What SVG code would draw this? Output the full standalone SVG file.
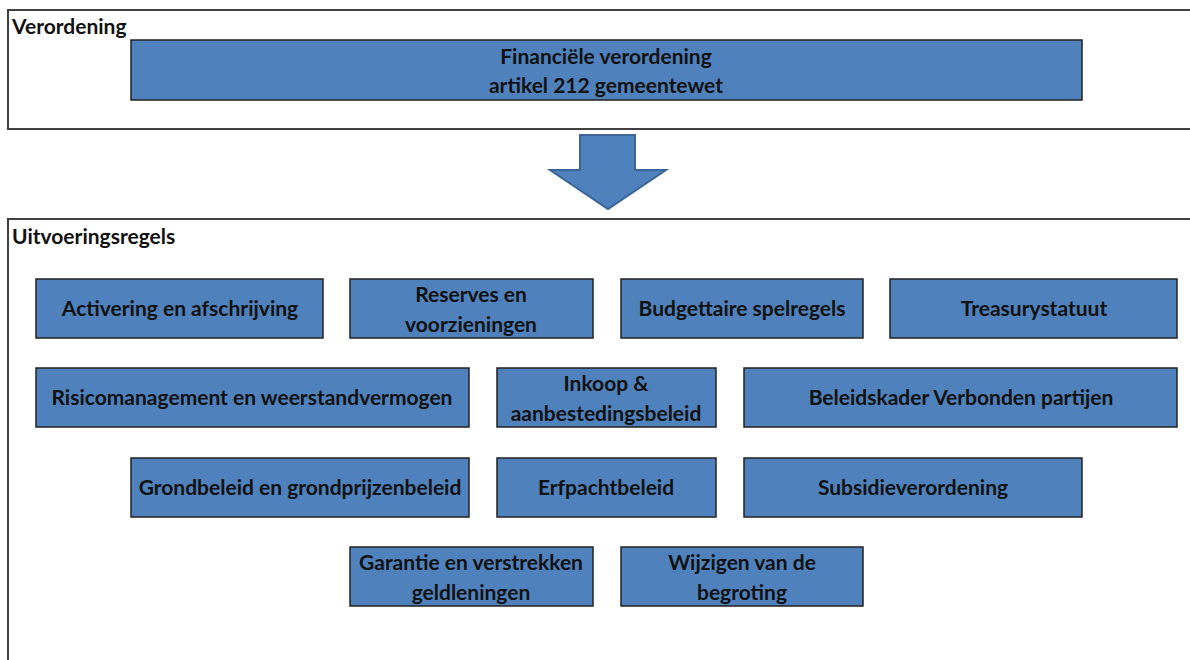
<svg xmlns="http://www.w3.org/2000/svg" width="1190" height="660" viewBox="0 0 1190 660">
<style>
.frame{fill:#fff;stroke:#404040;stroke-width:2}
.box{fill:#4f81bd;stroke:#222;stroke-width:1.5}
.t{font-family:Lato,"Liberation Sans",sans-serif;font-weight:bold;font-size:21px;fill:#111;text-anchor:middle}
.h{font-family:Lato,"Liberation Sans",sans-serif;font-weight:bold;font-size:21px;fill:#111}
</style>
<rect width="1190" height="660" fill="#fff"/>
<g id="frame-verordening">
<rect class="frame" x="8" y="10" width="1200" height="119"/>
<text class="h" x="12" y="34">Verordening</text>
</g>
<g id="frame-uitvoeringsregels">
<rect class="frame" x="8" y="219" width="1200" height="460"/>
<text class="h" x="12" y="244">Uitvoeringsregels</text>
</g>
<g id="connectors">
<polygon points="580,135 635,135 635,170 666,170 608,209 550,170 580,170" fill="#4f81bd" stroke="#3a6596" stroke-width="2" stroke-linejoin="miter"/>
</g>
<g id="n-fin"><rect class="box" x="131" y="40" width="951" height="60"/><text class="t" x="606" y="64">Financiële verordening</text><text class="t" x="606" y="93">artikel 212 gemeentewet</text></g>
<g id="n-act"><rect class="box" x="36" y="279" width="287" height="59"/><text class="t" x="180" y="316">Activering en afschrijving</text></g>
<g id="n-res"><rect class="box" x="350" y="279" width="243" height="59"/><text class="t" x="471" y="302">Reserves en</text><text class="t" x="471" y="332">voorzieningen</text></g>
<g id="n-bud"><rect class="box" x="621" y="279" width="242" height="59"/><text class="t" x="742" y="316">Budgettaire spelregels</text></g>
<g id="n-tre"><rect class="box" x="890" y="279" width="287" height="59"/><text class="t" x="1034" y="316">Treasurystatuut</text></g>
<g id="n-ris"><rect class="box" x="36" y="368" width="433" height="59"/><text class="t" x="252" y="405">Risicomanagement en weerstandvermogen</text></g>
<g id="n-ink"><rect class="box" x="497" y="368" width="219" height="59"/><text class="t" x="606" y="391">Inkoop &amp;</text><text class="t" x="606" y="421">aanbestedingsbeleid</text></g>
<g id="n-bel"><rect class="box" x="744" y="368" width="433" height="59"/><text class="t" x="961" y="405">Beleidskader Verbonden partijen</text></g>
<g id="n-gro"><rect class="box" x="131" y="458" width="338" height="59"/><text class="t" x="300" y="495">Grondbeleid en grondprijzenbeleid</text></g>
<g id="n-erf"><rect class="box" x="497" y="458" width="219" height="59"/><text class="t" x="606" y="495">Erfpachtbeleid</text></g>
<g id="n-sub"><rect class="box" x="744" y="458" width="338" height="59"/><text class="t" x="913" y="495">Subsidieverordening</text></g>
<g id="n-gar"><rect class="box" x="350" y="547" width="243" height="59"/><text class="t" x="471" y="570">Garantie en verstrekken</text><text class="t" x="471" y="600">geldleningen</text></g>
<g id="n-wij"><rect class="box" x="621" y="547" width="242" height="59"/><text class="t" x="742" y="570">Wijzigen van de</text><text class="t" x="742" y="600">begroting</text></g>
</svg>
